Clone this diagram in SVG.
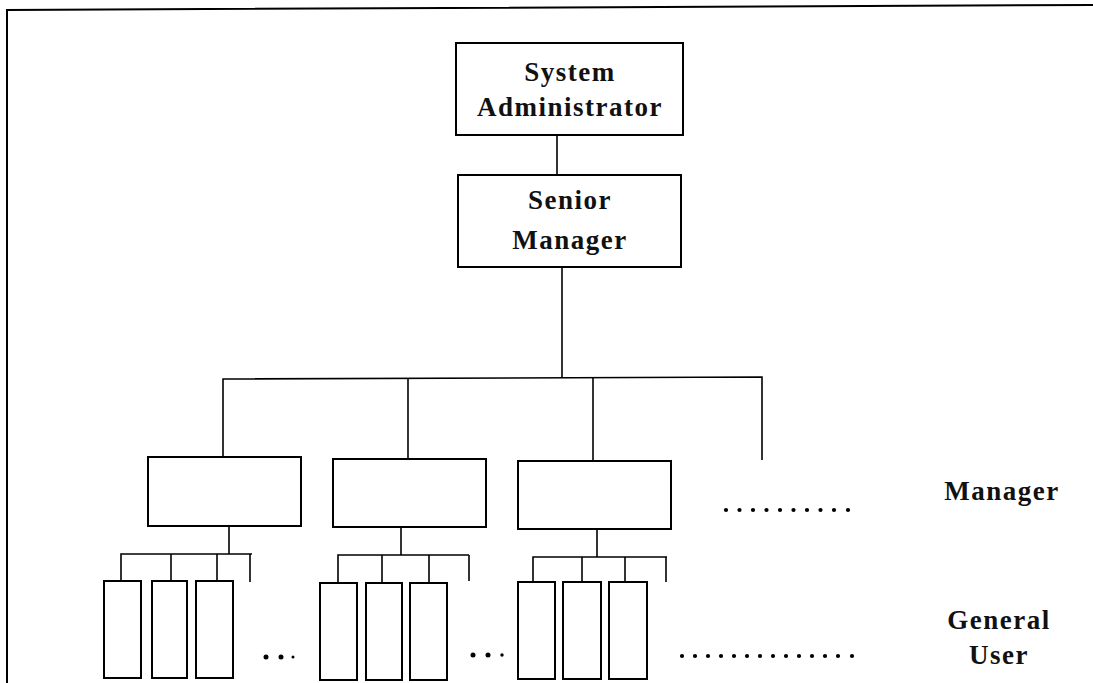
<svg xmlns="http://www.w3.org/2000/svg" width="1093" height="683" viewBox="0 0 1093 683">
  <style>
    .box { fill: #fff; stroke: #000; stroke-width: 2; }
    .ln { fill: none; stroke: #000; stroke-width: 1.6; }
    .frame { fill: none; stroke: #000; stroke-width: 2; }
    .t { font-family: 'Liberation Serif', 'DejaVu Serif', serif; font-weight: bold; font-size: 27px; letter-spacing: 1.5px; text-anchor: middle; fill: #111; }
    .dot { fill: #000; }
  </style>
  <rect width="1093" height="683" fill="#fff"/>

  <!-- page frame -->
  <path class="frame" d="M7,683 L7,10 L1093,5"/>

  <!-- connectors -->
  <g id="connectors">
    <path class="ln" d="M557,135 V175"/>
    <path class="ln" d="M562,267 V378"/>
    <path class="ln" d="M223,457 V379 L762,377 V460"/>
    <path class="ln" d="M408,378 V459"/>
    <path class="ln" d="M593,378 V460"/>
    <!-- manager 1 to users -->
    <path class="ln" d="M229,526 V554"/>
    <path class="ln" d="M121,581 V554 H252"/>
    <path class="ln" d="M171,554 V581"/>
    <path class="ln" d="M217,554 V581"/>
    <path class="ln" d="M250,554 V582"/>
    <!-- manager 2 to users -->
    <path class="ln" d="M401,527 V555"/>
    <path class="ln" d="M338,583 V555 H469"/>
    <path class="ln" d="M382,555 V583"/>
    <path class="ln" d="M429,555 V583"/>
    <path class="ln" d="M469,555 V581"/>
    <!-- manager 3 to users -->
    <path class="ln" d="M597,529 V557"/>
    <path class="ln" d="M533,582 V557 H667"/>
    <path class="ln" d="M582,557 V582"/>
    <path class="ln" d="M625,557 V582"/>
    <path class="ln" d="M666,557 V582"/>
  </g>

  <g id="system-admin">
    <rect class="box" x="456" y="43" width="227" height="92"/>
    <text class="t" x="570" y="81">System</text>
    <text class="t" x="570" y="116">Administrator</text>
  </g>

  <g id="senior-manager">
    <rect class="box" x="458" y="175" width="223" height="92"/>
    <text class="t" x="570" y="209">Senior</text>
    <text class="t" x="570" y="249">Manager</text>
  </g>

  <g id="manager-1"><rect class="box" x="148" y="457" width="153" height="69"/></g>
  <g id="manager-2"><rect class="box" x="333" y="459" width="153" height="68"/></g>
  <g id="manager-3"><rect class="box" x="518" y="461" width="153" height="68"/></g>

  <g id="users-1">
    <rect class="box" x="104" y="581" width="37" height="97"/>
    <rect class="box" x="152" y="581" width="35" height="97"/>
    <rect class="box" x="196" y="581" width="37" height="97"/>
  </g>
  <g id="users-2">
    <rect class="box" x="320" y="583" width="37" height="97"/>
    <rect class="box" x="366" y="583" width="36" height="97"/>
    <rect class="box" x="410" y="583" width="37" height="97"/>
  </g>
  <g id="users-3">
    <rect class="box" x="518" y="582" width="37" height="97"/>
    <rect class="box" x="563" y="582" width="38" height="97"/>
    <rect class="box" x="609" y="582" width="38" height="97"/>
  </g>

  <!-- ellipses -->
  <g id="ellipses">
    <circle class="dot" cx="266" cy="657" r="2.5"/>
    <circle class="dot" cx="281" cy="657" r="2.5"/>
    <circle class="dot" cx="293" cy="657" r="1.5"/>
    <circle class="dot" cx="473" cy="655" r="2.5"/>
    <circle class="dot" cx="488" cy="655" r="2.5"/>
    <circle class="dot" cx="502" cy="655" r="1.7"/>
    <g id="manager-dots">
      <circle class="dot" cx="726" cy="510" r="2.1"/>
      <circle class="dot" cx="739.5" cy="510" r="2.1"/>
      <circle class="dot" cx="753" cy="510" r="2.1"/>
      <circle class="dot" cx="766.5" cy="510" r="2.1"/>
      <circle class="dot" cx="780" cy="510" r="2.1"/>
      <circle class="dot" cx="793.5" cy="510" r="2.1"/>
      <circle class="dot" cx="807" cy="510" r="2.1"/>
      <circle class="dot" cx="820.5" cy="510" r="2.1"/>
      <circle class="dot" cx="834" cy="510" r="2.1"/>
      <circle class="dot" cx="848" cy="510" r="2.1"/>
    </g>
    <g id="user-dots">
      <circle class="dot" cx="682" cy="656" r="2.1"/>
      <circle class="dot" cx="695" cy="656" r="2.1"/>
      <circle class="dot" cx="708" cy="656" r="2.1"/>
      <circle class="dot" cx="721" cy="656" r="2.1"/>
      <circle class="dot" cx="734" cy="656" r="2.1"/>
      <circle class="dot" cx="747" cy="656" r="2.1"/>
      <circle class="dot" cx="760" cy="656" r="2.1"/>
      <circle class="dot" cx="773" cy="656" r="2.1"/>
      <circle class="dot" cx="786" cy="656" r="2.1"/>
      <circle class="dot" cx="799" cy="656" r="2.1"/>
      <circle class="dot" cx="812" cy="656" r="2.1"/>
      <circle class="dot" cx="825" cy="656" r="2.1"/>
      <circle class="dot" cx="838" cy="656" r="2.1"/>
      <circle class="dot" cx="852" cy="656" r="2.1"/>
    </g>
  </g>

  <!-- level labels -->
  <g id="label-manager">
    <text class="t" x="1002" y="500">Manager</text>
  </g>
  <g id="label-general-user">
    <text class="t" x="999" y="629">General</text>
    <text class="t" x="999" y="664">User</text>
  </g>
</svg>
